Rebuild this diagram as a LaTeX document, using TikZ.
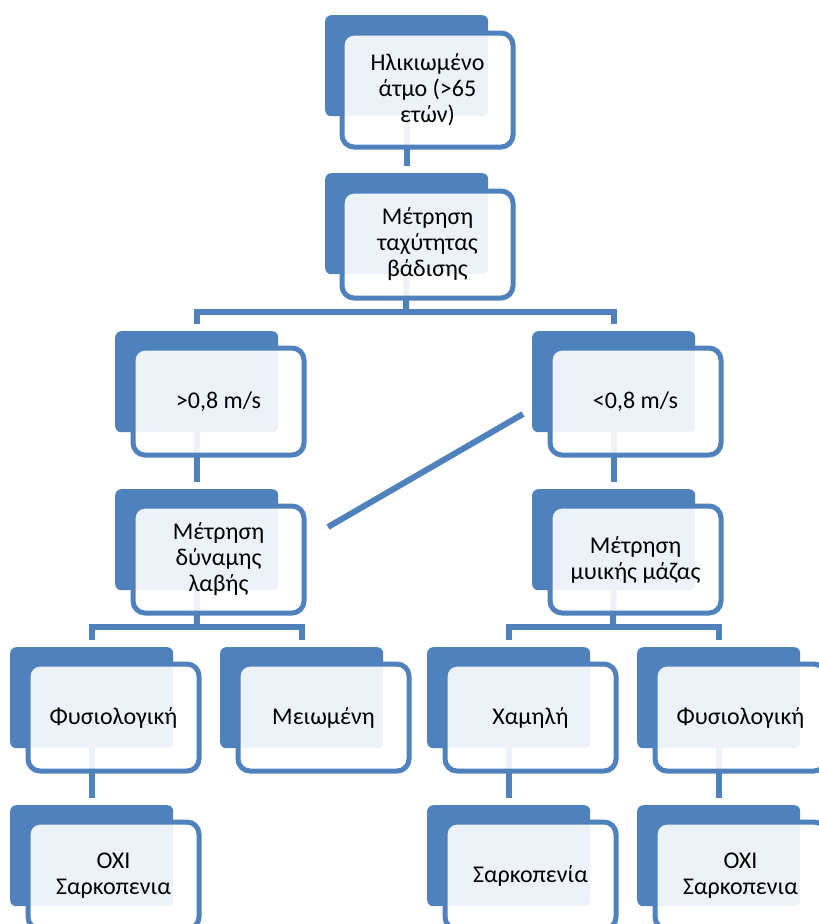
\documentclass[tikz,border=0pt]{standalone}
\usepackage{fontspec}
\setmainfont{Carlito}
\definecolor{boxblue}{HTML}{4F81BD}
\begin{document}
\begin{tikzpicture}[x=1pt, y=-1pt,
    back/.style={fill=boxblue, rounded corners=6pt, minimum width=163pt,
      minimum height=101pt, inner sep=0pt, anchor=north west},
    front/.style={draw=boxblue, line width=5pt, fill=white, fill opacity=0.9,
      text opacity=1, rounded corners=12pt, minimum width=171pt,
      minimum height=107pt, inner sep=2pt, anchor=north west, align=center,
      font=\fontsize{24}{26}\selectfont},
    link/.style={draw=boxblue, line width=6pt},
    gap/.style={shorten >=7pt}]
    \useasboundingbox (0,0) rectangle (819,924);
    \clip (0,0) rectangle (819,924);
    % back plates
    \node[back] (elder-b) at (325,15) {};
    \node[back] (gait-b) at (325,173) {};
    \node[back] (fast-b) at (115,331) {};
    \node[back] (slow-b) at (532,331) {};
    \node[back] (grip-b) at (115,489) {};
    \node[back] (mass-b) at (532,489) {};
    \node[back] (normgrip-b) at (10,647) {};
    \node[back] (weak-b) at (220,647) {};
    \node[back] (low-b) at (427,647) {};
    \node[back] (normmass-b) at (637,647) {};
    \node[back] (nosarc-l-b) at (10,805) {};
    \node[back] (sarc-b) at (427,805) {};
    \node[back] (nosarc-r-b) at (637,805) {};
    % connectors
    \coordinate (bar-top) at (406,312);
    \coordinate (bar-left) at (197,627);
    \coordinate (bar-right) at (613,627);
    \draw[link, gap] (elder-b.south) -- (gait-b.north);
    \draw[link] (gait-b.south) -- (bar-top);
    \draw[link, gap, shorten <=7pt] (fast-b.north) |- (bar-top) -| (slow-b.north);
    \draw[link, gap] (fast-b.south) -- (grip-b.north);
    \draw[link, gap] (slow-b.south) -- (mass-b.north);
    \draw[link] (grip-b.south) -- (bar-left);
    \draw[link, gap, shorten <=7pt] (normgrip-b.north) |- (bar-left) -| (weak-b.north);
    \draw[link] (mass-b.south) -- (bar-right);
    \draw[link, gap, shorten <=7pt] (low-b.north) |- (bar-right) -| (normmass-b.north);
    \draw[link, gap] (normgrip-b.south) -- (nosarc-l-b.north);
    \draw[link, gap] (low-b.south) -- (sarc-b.north);
    \draw[link, gap] (normmass-b.south) -- (nosarc-r-b.north);
    \coordinate (stray-a) at (328,527);
    \coordinate (stray-b) at (523,414);
    \draw[link] (stray-a) -- (stray-b);
    % front boxes
    \node[front, minimum height=114pt] (elder) at ([shift={(14.5,15.5)}]elder-b.north west) {Ηλικιωμένο\\άτμο (>65\\ετών)};
    \node[front] (gait) at ([shift={(14.5,15.5)}]gait-b.north west) {Μέτρηση\\ταχύτητας\\βάδισης};
    \node[front] (fast) at ([shift={(15.5,14.5)}]fast-b.north west) {>0,8 m/s};
    \node[front] (slow) at ([shift={(15.5,14.5)}]slow-b.north west) {<0,8 m/s};
    \node[front] (grip) at ([shift={(15.5,14.5)}]grip-b.north west) {Μέτρηση\\δύναμης\\λαβής};
    \node[front] (mass) at ([shift={(15.5,14.5)}]mass-b.north west) {Μέτρηση\\μυικής μάζας};
    \node[front] (normgrip) at ([shift={(15.5,14.5)}]normgrip-b.north west) {Φυσιολογική};
    \node[front] (weak) at ([shift={(15.5,14.5)}]weak-b.north west) {Μειωμένη};
    \node[front] (low) at ([shift={(15.5,14.5)}]low-b.north west) {Χαμηλή};
    \node[front] (normmass) at ([shift={(15.5,14.5)}]normmass-b.north west) {Φυσιολογική};
    \node[front] (nosarc-l) at ([shift={(15.5,14.5)}]nosarc-l-b.north west) {ΟΧΙ\\Σαρκοπενια};
    \node[front] (sarc) at ([shift={(15.5,14.5)}]sarc-b.north west) {Σαρκοπενία};
    \node[front] (nosarc-r) at ([shift={(15.5,14.5)}]nosarc-r-b.north west) {ΟΧΙ\\Σαρκοπενια};
\end{tikzpicture}
\end{document}
